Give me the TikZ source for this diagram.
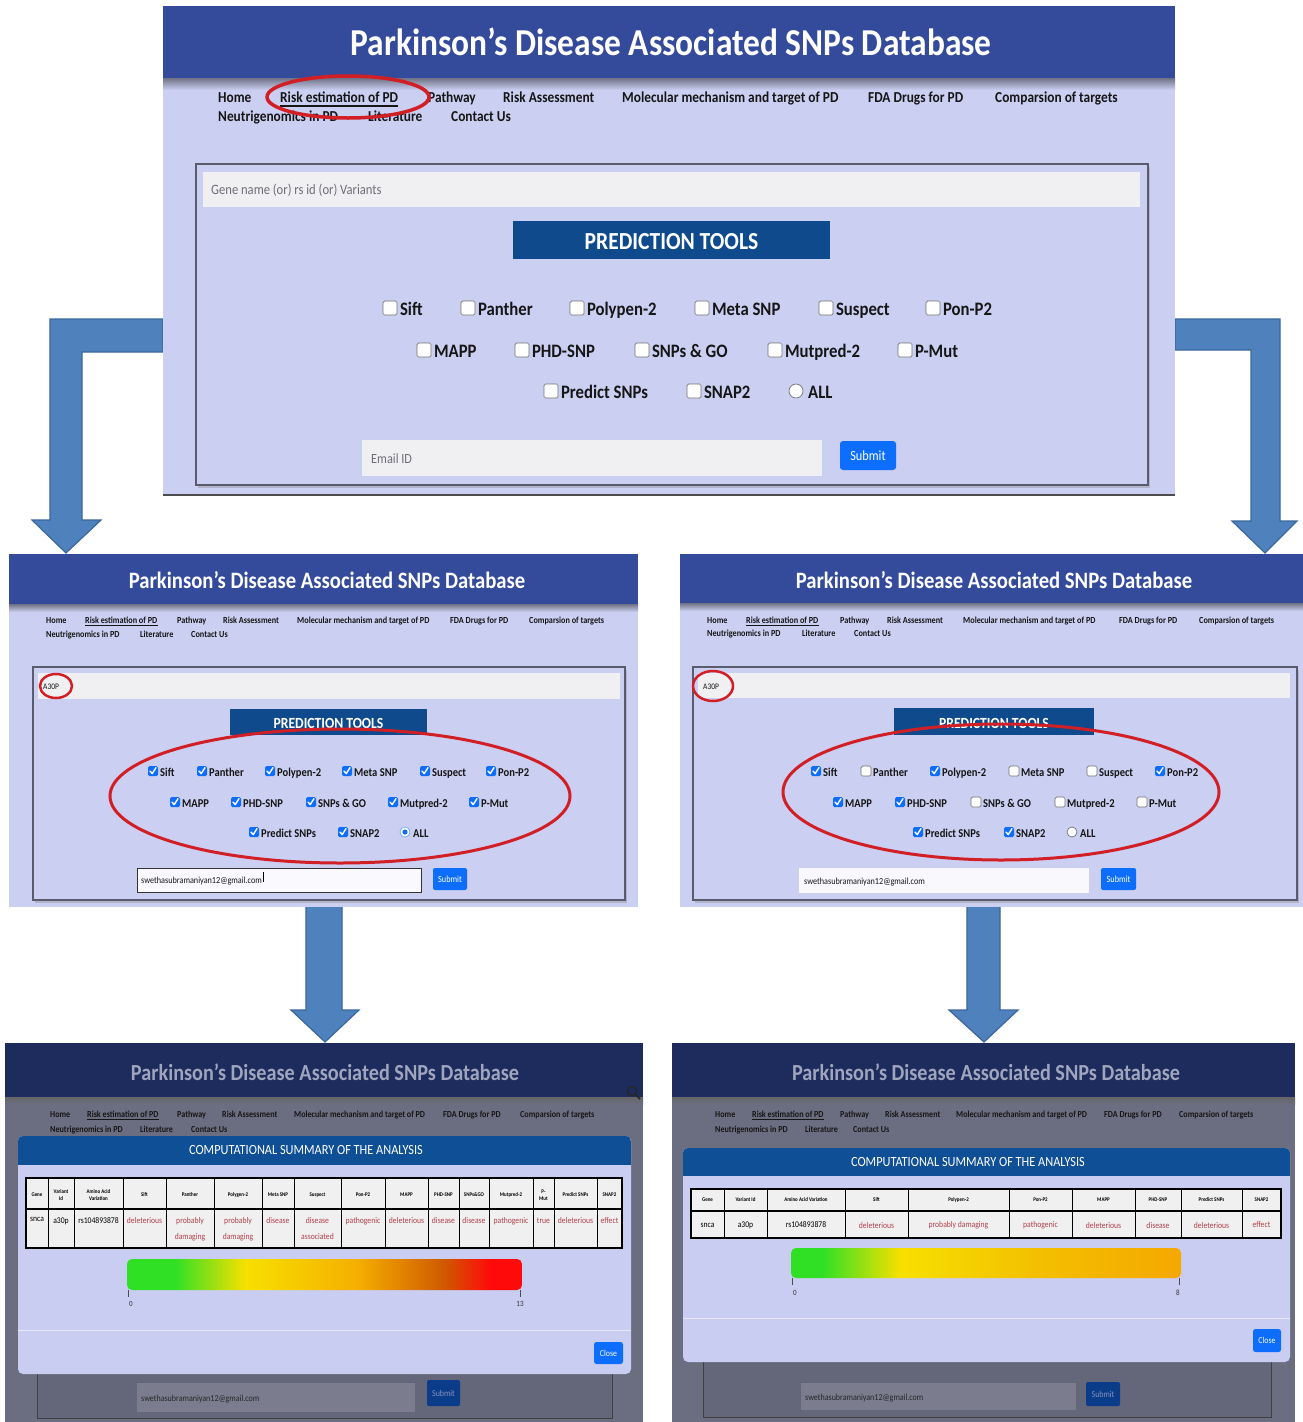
\documentclass[tikz,border=0pt]{standalone}
\usepackage{fontspec}
\setmainfont{Carlito}[FakeStretch=0.88]
\usetikzlibrary{shadows}
\definecolor{barblue}{HTML}{344B9C}
\definecolor{lav}{HTML}{CBCFF2}
\definecolor{fieldgray}{HTML}{F0F0F3}
\definecolor{predblue}{HTML}{0E4A8C}
\definecolor{btnblue}{HTML}{0D6EFD}
\definecolor{ringred}{HTML}{D21F26}
\definecolor{arrfill}{HTML}{4F81BD}
\definecolor{arrline}{HTML}{3A679E}
\definecolor{dimbar}{HTML}{1D2B5D}
\definecolor{dimtitle}{HTML}{A0A5BE}
\definecolor{dimbg}{HTML}{6B6D81}
\definecolor{dimcard}{HTML}{64667A}
\definecolor{dimfield}{HTML}{7B7D8F}
\definecolor{dimbtn}{HTML}{0B3C8A}
\definecolor{dimbtntext}{HTML}{8494BC}
\definecolor{modhead}{HTML}{0F4F96}
\definecolor{modbody}{HTML}{C9CDF2}
\definecolor{cellbg}{HTML}{F0F0F0}
\definecolor{valred}{HTML}{B3404A}
\definecolor{cardline}{HTML}{5A5C6E}
\definecolor{phgray}{HTML}{6E6E78}
\definecolor{navblack}{HTML}{161616}
\definecolor{gA}{HTML}{2FE025}
\definecolor{gY}{HTML}{F7E000}
\definecolor{gO}{HTML}{F5B000}
\definecolor{gD}{HTML}{CF5A00}
\definecolor{gR}{HTML}{FF0A0A}
\definecolor{gO2}{HTML}{F5A800}
\definecolor{gO3}{HTML}{F3C000}
\pgfdeclarehorizontalshading{riskL}{100bp}{color(0bp)=(gA); color(31bp)=(gA); color(40bp)=(gY); color(54bp)=(gO); color(65bp)=(gD); color(71bp)=(gR); color(100bp)=(gR)}
\pgfdeclarehorizontalshading{riskR}{100bp}{color(0bp)=(gA); color(29bp)=(gA); color(39bp)=(gY); color(56bp)=(gO3); color(75bp)=(gO2); color(100bp)=(gO2)}
\newcommand\fsz[2]{\fontsize{#1}{#2}\selectfont}
\tikzset{
  nav/.style={anchor=base west, inner sep=0pt, text=navblack},
  ttl/.style={anchor=base, inner sep=0pt, text=white},
  ph/.style={anchor=base west, inner sep=0pt, text=phgray},
  btntext/.style={anchor=center, inner sep=0pt, text=white},
  ring/.style={draw=ringred, line width=3},
  blockarrow/.style={fill=arrfill, draw=arrline, line width=1.2, line join=miter},
  card/.style={draw=cardline, line width=1.2, fill=lav, drop shadow={opacity=0.35, shadow xshift=2pt, shadow yshift=-3pt}},
  thead/.style={anchor=center, inner sep=0pt, align=center, font=\bfseries\fsz{5.6}{6.4}, text=black},
  tcell/.style={anchor=north, inner sep=0pt, align=center, font=\fsz{8.7}{15.5}},
  rcell/.style={anchor=center, inner sep=0pt, align=center, font=\fsz{8.7}{10}},
  small/.style={anchor=base, inner sep=0pt, font=\fsz{8}{8}, text=black!80},
}
% navigation bar: #1 prefix, #2 row-1 baseline, #3 row-2 baseline, #4 x positions, #5 font size
\newcommand\navbar[5]{%
  \foreach \lbl [count=\i from 0] in {Home,Risk estimation of PD,Pathway,Risk Assessment,Molecular mechanism and target of PD,FDA Drugs for PD,Comparsion of targets,Neutrigenomics in PD,Literature,Contact Us}{%
    \pgfmathsetmacro\navx{{#4}[\i]}%
    \pgfmathsetmacro\navy{(\i<7) ? #2 : #3}%
    \node[nav, font=\bfseries\fsz{#5}{#5}] (#1n\i) at (\navx,\navy) {\lbl};
  }%
  \draw[navblack, line width=#5*0.13] ([yshift=-#5*0.24]#1n1.base west) -- ([yshift=-#5*0.24]#1n1.base east);
}
% checkbox row: #1 prefix, #2 baseline, #3 box size, #4 font size, #5 list x/label/state
\newcommand\cbrow[5]{%
  \foreach \xx/\lbl/\stt [count=\i] in {#5}{%
    \ifnum\stt=1\relax
      \fill[btnblue, rounded corners=1.5] (\xx,#2-#3) rectangle ++(#3,#3);
      \draw[white, line width=#3*0.14, line cap=round, line join=round] ({\xx+0.2*#3},{#2-0.5*#3}) -- ({\xx+0.42*#3},{#2-0.24*#3}) -- ({\xx+0.8*#3},{#2-0.84*#3});
    \else
      \draw[fill=white, draw=black!55, line width=0.7, rounded corners=1.5] (\xx,#2-#3) rectangle ++(#3,#3);
    \fi
    \node[nav, font=\bfseries\fsz{#4}{#4}] (#1c\i) at ({\xx+1.2*#3},#2) {\lbl};
  }%
}
\begin{document}
\begin{tikzpicture}[x=1pt,y=-1pt]
\useasboundingbox (0,0) rectangle (1303,1422);
\fill[white] (0,0) rectangle (1303,1422);

% ---------- block arrows ----------
\draw[blockarrow] (163,319) -- (50,319) -- (50,520) -- (32,520) -- (66,553) -- (101,520) -- (82,520) -- (82,352) -- (163,352) -- cycle;
\draw[blockarrow] (1175,319) -- (1280,319) -- (1280,521) -- (1297,521) -- (1265,553) -- (1232,521) -- (1251,521) -- (1251,350) -- (1175,350) -- cycle;
\draw[blockarrow] (306,905) -- (342,905) -- (342,1010) -- (359,1010) -- (325,1042) -- (291,1010) -- (306,1010) -- cycle;
\draw[blockarrow] (967,905) -- (1000,905) -- (1000,1010) -- (1018,1010) -- (984,1042) -- (949,1010) -- (967,1010) -- cycle;

% ================= TOP PANEL =================
\fill[lav] (163,6) rectangle (1175,495);
\fill[barblue] (163,6) rectangle (1175,78);
\shade[top color=black!45!lav, bottom color=lav] (163,78) rectangle (1175,90);
\node[ttl, font=\bfseries\fsz{38}{40}] (ttitle) at (671,55) {Parkinson’s Disease Associated SNPs Database};
\navbar{t}{102.5}{121.5}{218,280,428,503,622,868,995,218,368,451}{15.2}
\draw[ring, line width=3.5] (348,97) ellipse [x radius=81, y radius=21];
\draw[card] (196,164) rectangle (1148,485);
\fill[fieldgray] (203,172) rectangle (1140,207);
\node[ph, font=\fsz{14.3}{15}] (tsearch) at (211,194.5) {Gene name (or) rs id (or) Variants};
\fill[predblue] (513,221) rectangle (830,259);
\node[ttl, font=\bfseries\fsz{24.5}{26}] (tpred) at (671.5,249) {PREDICTION TOOLS};
\cbrow{t1}{315}{14}{19}{383/Sift/0, 461/Panther/0, 570/Polypen-2/0, 695/Meta SNP/0, 819/Suspect/0, 926/Pon-P2/0}
\cbrow{t2}{357}{14}{19}{417/MAPP/0, 515/PHD-SNP/0, 635/SNPs \& GO/0, 768/Mutpred-2/0, 898/P-Mut/0}
\cbrow{t3}{398}{14}{19}{544/Predict SNPs/0, 687/SNAP2/0}
\draw[fill=white, draw=black!55, line width=0.7] (796,391) circle (7);
\node[nav, font=\bfseries\fsz{19}{19}] (tall) at (808,398) {ALL};
\fill[fieldgray] (362,440) rectangle (822,476);
\node[ph, font=\fsz{14}{15}] (temail) at (371,463) {Email ID};
\fill[btnblue, rounded corners=3] (840,441) rectangle (896,470);
\node[btntext, font=\fsz{14}{14}] (tsubmit) at (868,455.5) {Submit};
\draw[black!70, line width=1.5] (163,495) -- (1175,495);

% ================= MIDDLE LEFT =================
\fill[lav] (9,554) rectangle (638,907);
\fill[barblue] (9,554) rectangle (638,604);
\shade[top color=black!45!lav, bottom color=lav] (9,604) rectangle (638,612);
\node[ttl, font=\bfseries\fsz{23.5}{25}] (mltitle) at (327,588) {Parkinson’s Disease Associated SNPs Database};
\navbar{ml}{623.5}{637}{46,85,177,223,297,450,529,46,140,191}{9.3}
\draw[card] (33,667) rectangle (625,900);
\fill[fieldgray] (38,673) rectangle (620,699);
\node[nav, font=\fsz{8.5}{9}] (mlsearch) at (43,689) {A30P};
\draw[ring, line width=2.5] (56,686) ellipse [x radius=16, y radius=12];
\fill[predblue] (230,709) rectangle (427,735);
\node[ttl, font=\bfseries\fsz{15.5}{17}] (mlpred) at (328.5,728.5) {PREDICTION TOOLS};
\cbrow{ml1}{776}{10}{12}{148/Sift/1, 197/Panther/1, 265/Polypen-2/1, 342/Meta SNP/1, 420/Suspect/1, 486/Pon-P2/1}
\cbrow{ml2}{807}{10}{12}{170/MAPP/1, 231/PHD-SNP/1, 306/SNPs \& GO/1, 388/Mutpred-2/1, 469/P-Mut/1}
\cbrow{ml3}{837}{10}{12}{249/Predict SNPs/1, 338/SNAP2/1}
\draw[fill=white, draw=btnblue!60, line width=0.7] (405,832) circle (5);
\fill[btnblue] (405,832) circle (2.6);
\node[nav, font=\bfseries\fsz{12}{12}] (mlall) at (413,837) {ALL};
\draw[ring] (340,796) ellipse [x radius=230, y radius=67];
\draw[fill=white!90!lav, draw=black!80, line width=0.9] (137,868) rectangle (421,892);
\node[nav, font=\fsz{9.3}{10}] (mlemail) at (141,883.5) {swethasubramaniyan12@gmail.com};
\draw[black, line width=0.6] ([xshift=1pt,yshift=2pt]mlemail.base east) -- ++(0,-10);
\fill[btnblue, rounded corners=2] (433,868) rectangle (467,890);
\node[btntext, font=\fsz{9.4}{10}] (mlsubmit) at (450,879) {Submit};

% ================= MIDDLE RIGHT =================
\fill[lav] (680,554) rectangle (1303,907);
\fill[barblue] (680,554) rectangle (1303,603);
\shade[top color=black!45!lav, bottom color=lav] (680,603) rectangle (1303,611);
\node[ttl, font=\bfseries\fsz{23.5}{25}] (mrtitle) at (994,588) {Parkinson’s Disease Associated SNPs Database};
\navbar{mr}{623}{636.5}{707,746,840,887,963,1119,1199,707,802,854}{9.3}
\draw[card] (693,667) rectangle (1297,900);
\fill[fieldgray] (698,673) rectangle (1290,698);
\node[nav, font=\fsz{8.5}{9}] (mrsearch) at (703,689) {A30P};
\draw[ring, line width=2.5] (713,686) ellipse [x radius=20, y radius=15];
\fill[predblue] (894,708) rectangle (1094,735);
\node[ttl, font=\bfseries\fsz{15.5}{17}] (mrpred) at (994,728.5) {PREDICTION TOOLS};
\cbrow{mr1}{776}{10}{12}{811/Sift/1, 861/Panther/0, 930/Polypen-2/1, 1009/Meta SNP/0, 1087/Suspect/0, 1155/Pon-P2/1}
\cbrow{mr2}{807}{10}{12}{833/MAPP/1, 895/PHD-SNP/1, 971/SNPs \& GO/0, 1055/Mutpred-2/0, 1137/P-Mut/0}
\cbrow{mr3}{837}{10}{12}{913/Predict SNPs/1, 1004/SNAP2/1}
\draw[fill=white, draw=black!55, line width=0.7] (1072,832) circle (5);
\node[nav, font=\bfseries\fsz{12}{12}] (mrall) at (1080,837) {ALL};
\draw[ring] (1001,792) ellipse [x radius=218, y radius=68];
\fill[white!88!lav] (799,868) rectangle (1089,893);
\node[nav, font=\fsz{9.3}{10}] (mremail) at (804,884) {swethasubramaniyan12@gmail.com};
\fill[btnblue, rounded corners=2] (1101,868) rectangle (1136,890);
\node[btntext, font=\fsz{9.4}{10}] (mrsubmit) at (1118.5,879) {Submit};

% ================= BOTTOM LEFT =================
\fill[dimbg] (5,1043) rectangle (643,1422);
\fill[dimbar] (5,1043) rectangle (643,1097);
\shade[top color=black!60, bottom color=dimbg] (5,1097) rectangle (643,1104);
\node[ttl, text=dimtitle, font=\bfseries\fsz{23}{25}] (bltitle) at (325,1080) {Parkinson’s Disease Associated SNPs Database};
\draw[black!85, line width=1.4] (632,1091) circle (4.5);
\draw[black!85, line width=1.6] (635.5,1094.5) -- (640,1099);
\navbar{bl}{1117.5}{1132.5}{50,87,177,222,294,443,520,50,140,191}{9.2}
\draw[fill=dimcard, draw=black!75, line width=1] (37,1300) rectangle (612,1418);
\fill[dimfield] (137,1383) rectangle (415,1412);
\node[nav, text=black!85, font=\fsz{9.1}{10}] (blemail) at (141,1401) {swethasubramaniyan12@gmail.com};
\fill[dimbtn, rounded corners=2] (427,1380) rectangle (460,1406);
\node[btntext, text=dimbtntext, font=\fsz{9}{10}] (blsubmit) at (443.5,1393) {Submit};
\fill[modbody, rounded corners=5] (18,1136) rectangle (631,1374);
\begin{scope}
  \clip[rounded corners=5] (18,1136) rectangle (631,1374);
  \fill[modhead] (18,1136) rectangle (631,1165);
\end{scope}
\node[ttl, font=\fsz{14}{15}] (blhead) at (306,1154) {COMPUTATIONAL SUMMARY OF THE ANALYSIS};
\fill[cellbg] (26,1178) rectangle (622,1248);
\foreach \ca/\cb/\hdr/\dat/\cl [count=\i] in {
  26/48/Gene/snca/black,
  48/74/{Variant\\Id}/a30p/black,
  74/123/{Amino Acid\\Variation}/rs104893878/black,
  123/166/Sift/deleterious/valred,
  166/214/Panther/{probably\\damaging}/valred,
  214/262/Polygen-2/{probably\\damaging}/valred,
  262/294/Meta SNP/disease/valred,
  294/341/Suspect/{disease\\associated}/valred,
  341/385/Pon-P2/pathogenic/valred,
  385/428/MAPP/deleterious/valred,
  428/459/PHD-SNP/disease/valred,
  459/489/SNPs\&GO/disease/valred,
  489/533/Mutpred-2/pathogenic/valred,
  533/554/{P-\\Mut}/true/valred,
  554/597/Predict SNPs/deleterious/valred,
  597/622/SNAP2/effect/valred}{
  \draw[black, line width=0.9] (\ca,1178) -- (\ca,1248);
  \node[thead] (blh\i) at ({(\ca+\cb)/2},1195) {\hdr};
  \node[tcell, text=\cl] (bld\i) at ({(\ca+\cb)/2},1217.5) {\dat};
}
\draw[black, line width=1.8] (26,1209) -- (622,1209);
\draw[black, line width=2] (26,1178) rectangle (622,1248);
\shade[shading=riskL, rounded corners=5] (127,1259) rectangle (522,1290);
\draw[black!70, line width=0.8] (128.5,1290) -- (128.5,1297);
\draw[black!70, line width=0.8] (520.5,1290) -- (520.5,1297);
\node[small] (blzero) at (131,1306) {0};
\node[small] (blmax) at (520,1306) {13};
\draw[white!55!modbody, line width=1] (18,1330) -- (631,1330);
\fill[btnblue, rounded corners=2.5] (594,1342) rectangle (623,1364);
\node[btntext, font=\fsz{8.9}{10}] (blclose) at (608.5,1353) {Close};

% ================= BOTTOM RIGHT =================
\fill[dimbg] (672,1043) rectangle (1295,1422);
\fill[dimbar] (672,1043) rectangle (1295,1097);
\shade[top color=black!60, bottom color=dimbg] (672,1097) rectangle (1295,1104);
\node[ttl, text=dimtitle, font=\bfseries\fsz{23}{25}] (brtitle) at (986,1080) {Parkinson’s Disease Associated SNPs Database};
\navbar{br}{1117.5}{1132.5}{715,752,840,885,956,1104,1179,715,805,853}{9.2}
\draw[fill=dimcard, draw=black!75, line width=1] (703,1300) rectangle (1271,1417);
\fill[dimfield] (801,1383) rectangle (1076,1410);
\node[nav, text=black!85, font=\fsz{9.1}{10}] (bremail) at (805,1400) {swethasubramaniyan12@gmail.com};
\fill[dimbtn, rounded corners=2] (1086,1382) rectangle (1120,1406);
\node[btntext, text=dimbtntext, font=\fsz{9}{10}] (brsubmit) at (1103,1394) {Submit};
\fill[modbody, rounded corners=5] (683,1148) rectangle (1290,1362);
\begin{scope}
  \clip[rounded corners=5] (683,1148) rectangle (1290,1362);
  \fill[modhead] (683,1148) rectangle (1290,1176);
\end{scope}
\node[ttl, font=\fsz{14}{15}] (brhead) at (968,1166) {COMPUTATIONAL SUMMARY OF THE ANALYSIS};
\fill[cellbg] (691,1189) rectangle (1281,1238);
\foreach \ca/\cb/\hdr/\dat/\cl [count=\i] in {
  691/724/Gene/snca/black,
  724/767/Variant Id/a30p/black,
  767/845/Amino Acid Variation/rs104893878/black,
  845/908/Sift/deleterious/valred,
  908/1009/Polypen-2/probably damaging/valred,
  1009/1072/Pon-P2/pathogenic/valred,
  1072/1135/MAPP/deleterious/valred,
  1135/1181/PHD-SNP/disease/valred,
  1181/1242/Predict SNPs/deleterious/valred,
  1242/1281/SNAP2/effect/valred}{
  \draw[black, line width=0.9] (\ca,1189) -- (\ca,1238);
  \node[thead] (brh\i) at ({(\ca+\cb)/2},1200) {\hdr};
  \node[rcell, text=\cl] (brd\i) at ({(\ca+\cb)/2},1225) {\dat};
}
\draw[black, line width=1.8] (691,1211) -- (1281,1211);
\draw[black, line width=2] (691,1189) rectangle (1281,1238);
\shade[shading=riskR, rounded corners=5] (791,1248) rectangle (1181,1278);
\draw[black!70, line width=0.8] (792,1278) -- (792,1285);
\draw[black!70, line width=0.8] (1179.5,1278) -- (1179.5,1285);
\node[small] (brzero) at (795,1295) {0};
\node[small] (brmax) at (1178,1295) {8};
\draw[white!55!modbody, line width=1] (683,1318) -- (1290,1318);
\fill[btnblue, rounded corners=2.5] (1253,1329) rectangle (1281,1352);
\node[btntext, font=\fsz{8.9}{10}] (brclose) at (1267,1340.5) {Close};
\end{tikzpicture}
\end{document}
